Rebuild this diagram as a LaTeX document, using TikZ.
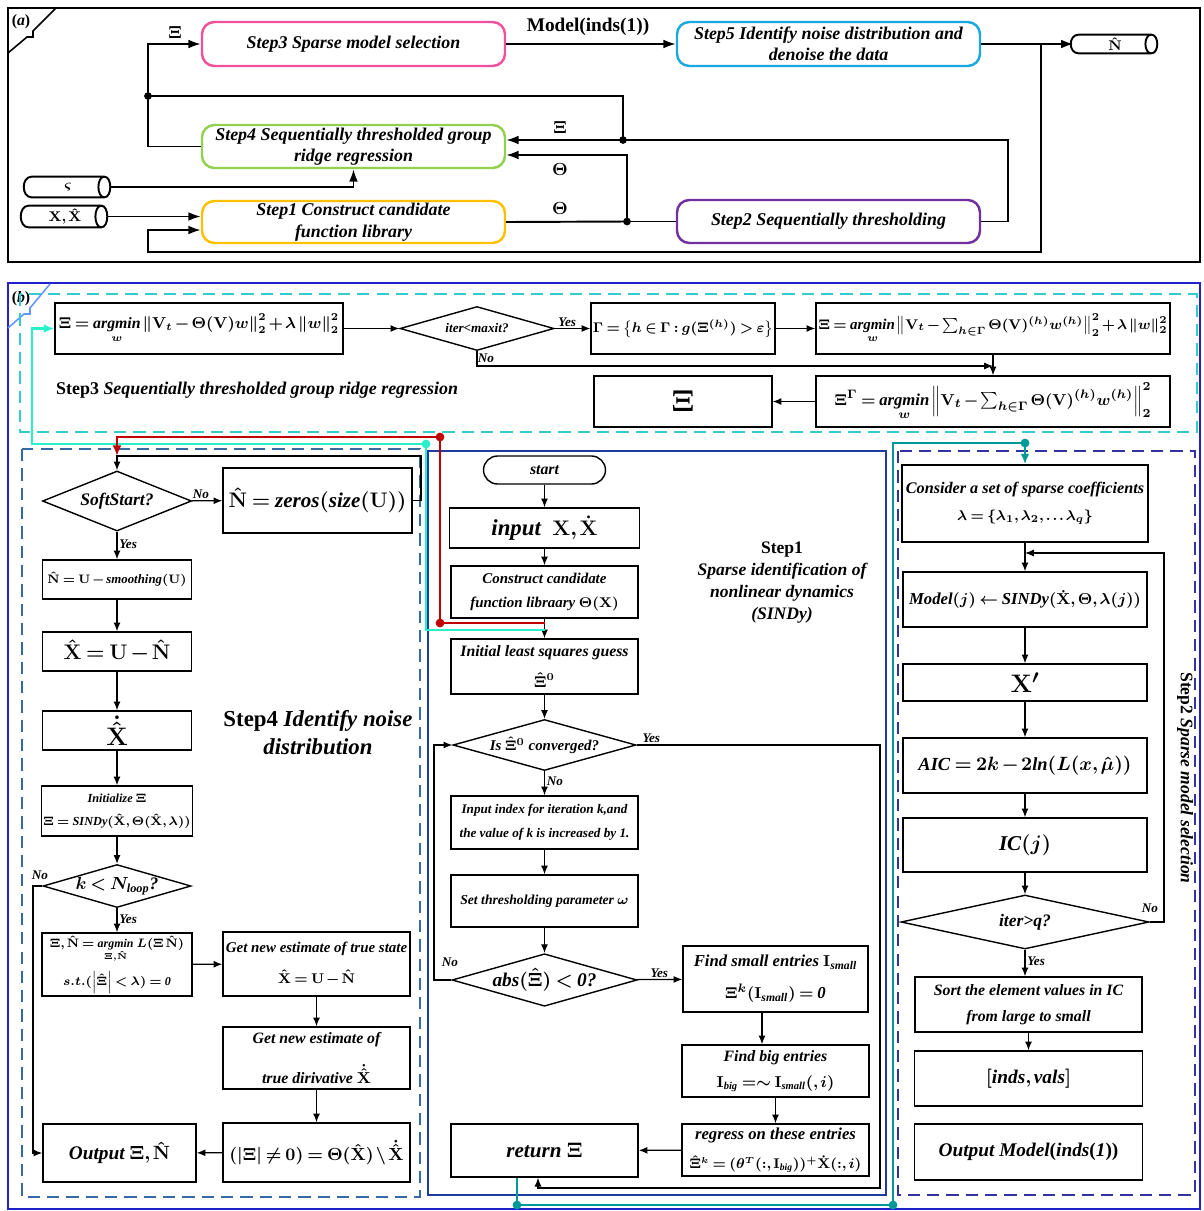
\documentclass[tikz,border=0pt]{standalone}
\usepackage{amsmath,amssymb}
\usepackage{fontspec}
\setmainfont{Liberation Serif}
\usepackage{tikz}
\usetikzlibrary{arrows.meta,shapes.geometric,positioning,calc}
\definecolor{sdpink}{RGB}{240,80,155}
\definecolor{sdblue}{RGB}{26,168,224}
\definecolor{sdgreen}{RGB}{146,208,80}
\definecolor{sdorange}{RGB}{255,192,0}
\definecolor{sdpurple}{RGB}{112,48,160}
\definecolor{sdframe}{RGB}{32,32,205}
\definecolor{sdtag}{RGB}{100,150,255}
\definecolor{sdcyan}{RGB}{51,204,204}
\definecolor{sdsteel}{RGB}{55,105,165}
\definecolor{sdnavy}{RGB}{30,60,160}
\definecolor{sdviolet}{RGB}{50,50,160}
\definecolor{sdred}{RGB}{192,0,0}
\definecolor{sdaqua}{RGB}{40,240,200}
\definecolor{sdteal}{RGB}{0,153,153}
\newcommand{\sdtight}{\thinmuskip=2mu\relax\medmuskip=2mu\relax\thickmuskip=3.5mu\relax}
\newcommand{\sdcylinder}[1]{%
  \draw[line width=1.1pt] (#1.north east) -- (#1.north west)
    .. controls +(-6pt,0) and +(-6pt,0) .. (#1.south west) -- (#1.south east)
    .. controls +(4.5pt,0) and +(4.5pt,0) .. (#1.north east)
    .. controls +(-4.5pt,0) and +(-4.5pt,0) .. (#1.south east);}
\tikzset{
  sdsize/.style 2 args={minimum width=#1*0.02cm,minimum height=#2*0.02cm},
  sdfont/.style={font=\bfseries\itshape\boldmath\fontsize{#1}{#1}\selectfont\sdtight},
  sdbox/.style={rectangle,draw=black,fill=white,line width=0.8pt,inner sep=1pt,align=center},
  sddec/.style={diamond,draw=black,fill=white,line width=0.8pt,inner sep=0pt,align=center},
  sdstep/.style={rectangle,rounded corners=7pt,draw=#1,fill=white,line width=1.4pt,inner sep=1pt,align=center,sdfont=10.2pt},
  sdcyl/.style={rectangle,inner sep=0pt,sdfont=8pt},
  sdedge/.style={-{Latex[length=5pt,width=4pt]},line width=0.7pt},
  sdmain/.style={-{Latex[length=7pt,width=5pt]},line width=1.1pt},
  sdwire/.style={line width=1.1pt},
  sdroute/.style={line width=1.6pt,draw=#1},
  sdlabel/.style={inner sep=1pt,sdfont=7.5pt},
  sddash/.style={line width=1.2pt,draw=#1,dash pattern=on 7pt off 4pt}
}
\begin{document}
\begin{tikzpicture}[x=0.02cm,y=-0.02cm]
  \useasboundingbox (0,0) rectangle (1204,1211);
  % (a) overview
  \draw[line width=1.2pt] (8,8) rectangle (1200,262);
  \draw[line width=0.9pt] (8,53) -- (27,37) -- (33,37) -- (33,31) -- (56,8);
  \node[sdfont=9pt] (taga) at (21,22) {\textup{(}a\textup{)}};
  \node[sdstep=sdpink,sdsize={303}{44}] (s3a) at (353.5,44) {Step3 Sparse model selection};
  \node[sdstep=sdblue,sdsize={303}{44}] (s5a) at (828.5,44) {Step5 Identify noise distribution and\\[2pt]denoise the data};
  \node[sdstep=sdgreen,sdsize={303}{43}] (s4a) at (353.5,146.5) {Step4 Sequentially thresholded group\\[2pt]ridge regression};
  \node[sdstep=sdorange,sdsize={303}{42}] (s1a) at (353.5,222) {Step1 Construct candidate\\[2pt]function library};
  \node[sdstep=sdpurple,sdsize={303}{43}] (s2a) at (828.5,221.5) {Step2 Sequentially thresholding};
  \node[sdcyl,sdsize={72}{18}] (cyn) at (1115,44) {$\hat{\mathbf{N}}$};
  \node[sdcyl,sdsize={72}{20}] (cys) at (68,187) {$\varsigma$};
  \node[sdcyl,sdsize={72}{21}] (cyx) at (65,216.5) {$\mathbf{X},\hat{\mathbf{X}}$};
  \sdcylinder{cyn}
  \sdcylinder{cys}
  \sdcylinder{cyx}
  \coordinate (ja) at (148,96);
  \coordinate (jb) at (623,140);
  \coordinate (jc) at (627,221.5);
  \coordinate (jd) at (1041,44);
  \coordinate (je) at (1008,140);
  \coordinate (jf) at (148,252);
  \draw[sdmain] (s4a.west) -| (ja) |- (s3a.west);
  \draw[sdwire] (ja) -| (jb);
  \draw[sdmain] (s2a.east) -| (je) -- (jb) -- (s4a.east |- jb);
  \draw[sdmain] (s1a.east) -- (jc) |- ([yshift=-0.17cm]s4a.east);
  \draw[sdwire] (jc) -- (s2a.west);
  \draw[sdmain] (s3a.east) -- (s5a.west);
  \node[sdfont=11pt] (mlab) at (588,27) {\textup{Model(inds(1))}};
  \draw[sdmain] (s5a.east) -- ([xshift=-3pt]cyn.west);
  \draw[sdmain] (jd) |- (jf) |- ([yshift=-0.16cm]s1a.west);
  \draw[sdmain] ([xshift=3pt]cyx.east) -- (s1a.west |- cyx.east);
  \draw[sdmain] ([xshift=3pt]cys.east) -| (s4a.south);
  \foreach \j in {ja,jb,jc} \fill (\j) circle[radius=2.2pt];
  \node[sdfont=10pt] at (175,32) {$\Xi$};
  \node[sdfont=10pt] at (560,127) {$\Xi$};
  \node[sdfont=10pt] at (560,169) {$\Theta$};
  \node[sdfont=10pt] at (560,208) {$\Theta$};
  % (b) frames
  \draw[line width=1.3pt,draw=sdframe] (8,283) rectangle (1200,1209);
  \draw[line width=0.9pt,draw=sdtag] (8,328) -- (24,314) -- (30,314) -- (30,308) -- (50,284);
  \node[sdfont=9pt] (tagb) at (21,299) {\textup{(}b\textup{)}};
  \draw[sddash=sdcyan] (20,294) rectangle (1197,432);
  \draw[sddash=sdsteel] (22,449) rectangle (420,1197);
  \draw[line width=1.3pt,draw=sdnavy] (428,451) rectangle (886,1195);
  \draw[sddash=sdviolet] (898,451) rectangle (1195,1195);
  % Step3 band
  \node[sdbox,sdsize={288}{51},sdfont=9pt] (b1) at (199,328.5) {$\Xi=\underset{w}{\mathit{argmin}}\left\|\mathbf{V}_t-\Theta(\mathbf{V})w\right\|_2^2+\lambda\left\|w\right\|_2^2$};
  \node[sddec,sdsize={154}{44},aspect=3.5,sdfont=7.5pt] (dmax) at (477,328.5) {iter<maxit?};
  \node[sdbox,sdsize={178}{51},sdfont=8pt] (b2) at (683,328.5) {$\Gamma=\left\{h\in\Gamma:g(\Xi^{(h)})>\varepsilon\right\}$};
  \node[sdbox,sdsize={354}{51},sdfont=8.5pt] (b3) at (993,328.5) {$\Xi=\underset{w}{\mathit{argmin}}\left\|\mathbf{V}_t-\sum_{h\in\Gamma}\Theta(\mathbf{V})^{(h)}w^{(h)}\right\|_2^2+\lambda\left\|w\right\|_2^2$};
  \node[sdbox,sdsize={354}{51},sdfont=9.5pt] (b4) at (993,401.5) {$\Xi^{\Gamma}=\underset{w}{\mathit{argmin}}\left\|\mathbf{V}_t-\sum_{h\in\Gamma}\Theta(\mathbf{V})^{(h)}w^{(h)}\right\|_2^2$};
  \node[sdbox,sdsize={178}{51},sdfont=17pt] (b5) at (683,401.5) {$\Xi$};
  \node[sdfont=10.2pt,anchor=west] (t3lab) at (50,390) {\textup{Step3} Sequentially thresholded group ridge regression};
  \coordinate (c10) at (993,366);
  \draw[sdedge] (b1) -- (dmax);
  \draw[sdedge] (dmax) -- node[sdlabel,above,pos=0.35] {Yes} (b2);
  \draw[sdedge] (b2) -- (b3);
  \draw[sdedge] (b3) -- (b4);
  \draw[sdedge] (dmax.south) |- (c10);
  \node[sdlabel] at (486,358) {No};
  \draw[sdedge] (b4) -- (b5);
  % Step4 column
  \node[sddec,sdsize={149}{60},aspect=2.5,sdfont=10pt] (dsoft) at (117,501) {SoftStart?};
  \node[sdbox,sdsize={189}{65},sdfont=12pt] (zeros) at (317.5,500.5) {$\hat{\mathbf{N}}=\mathit{zeros}(\mathit{size}(\mathbf{U}))$};
  \node[sdbox,sdsize={149}{39},sdfont=7.3pt] (smooth) at (117,579.5) {$\hat{\mathbf{N}}=\mathbf{U}-\mathit{smoothing}(\mathbf{U})$};
  \node[sdbox,sdsize={149}{39},sdfont=12pt] (xhat) at (117,651.5) {$\hat{\mathbf{X}}=\mathbf{U}-\hat{\mathbf{N}}$};
  \node[sdbox,sdsize={149}{39},sdfont=14pt] (xdh) at (117,730.5) {$\dot{\hat{\mathbf{X}}}$};
  \node[sdbox,sdsize={148}{50},sdfont=7pt] (init) at (117,811) {Initialize $\Xi$\\[6pt]$\Xi=\mathit{SINDy}(\hat{\mathbf{X}},\Theta(\hat{\mathbf{X}},\lambda))$};
  \node[sddec,sdsize={148}{43},aspect=3.4,sdfont=10pt] (dk) at (117,886) {$k<N_{\mathit{loop}}$?};
  \node[sdbox,sdsize={150}{63},sdfont=6.8pt] (amin) at (117,964.5) {$\Xi,\hat{\mathbf{N}}=\underset{\Xi,\hat{\mathbf{N}}}{\mathit{argmin}}\ L(\Xi\,\hat{\mathbf{N}})$\\[4pt]$s.t.(\left|\hat{\Xi}\right|<\lambda)=\mathit{0}$};
  \node[sdbox,sdsize={187}{64},sdfont=8.5pt] (gtrue) at (316.5,964) {Get new estimate of true state\\[7pt]$\hat{\mathbf{X}}=\mathbf{U}-\hat{\mathbf{N}}$};
  \node[sdbox,sdsize={187}{62},sdfont=9pt] (gder) at (316.5,1058) {Get new estimate of\\[9pt]true dirivative $\dot{\hat{\mathbf{X}}}$};
  \node[sdbox,sdsize={187}{59},sdfont=10pt] (theta) at (316.5,1152.5) {$(\left|\Xi\right|\neq\mathbf{0})=\Theta(\hat{\mathbf{X}})\setminus\dot{\hat{\mathbf{X}}}$};
  \node[sdbox,sdsize={153}{58},sdfont=11pt] (outp) at (119.5,1153) {Output $\Xi,\hat{\mathbf{N}}$};
  \node[sdfont=13pt,align=center] (t4lab) at (318,733) {\textup{Step4} Identify noise\\[3pt]distribution};
  \coordinate (c1) at (421,456);
  \coordinate (c4) at (33,886);
  \draw[sdedge] (zeros.east) -| (c1) -| (dsoft.north);
  \draw[sdedge] (dsoft) -- node[sdlabel,above,pos=0.3] {No} (zeros);
  \draw[sdedge] (dsoft) -- node[sdlabel,right,pos=0.45] {Yes} (smooth);
  \draw[sdedge] (smooth) -- (xhat);
  \draw[sdedge] (xhat) -- (xdh);
  \draw[sdedge] (xdh) -- (init);
  \draw[sdedge] (init) -- (dk);
  \draw[sdedge] (dk) -- node[sdlabel,right,pos=0.45] {Yes} (amin);
  \draw[sdedge] (dk.west) -- (c4) |- (outp.west);
  \node[sdlabel] at (40,875) {No};
  \draw[sdedge] (amin) -- (gtrue);
  \draw[sdedge] (gtrue) -- (gder);
  \draw[sdedge] (gder) -- (theta);
  \draw[sdedge] (theta) -- (outp);
  % Step1 column
  \node[sdbox,rounded corners=8pt,sdsize={122}{28},sdfont=9pt] (start) at (544.5,470) {start};
  \node[sdbox,sdsize={190}{40},sdfont=13pt] (inp) at (544.5,528) {input\ \ $\mathbf{X},\dot{\mathbf{X}}$};
  \node[sdbox,sdsize={187}{52},sdfont=8.5pt] (cons) at (544.5,592) {Construct candidate\\[5pt]function libraary $\Theta(\mathbf{X})$};
  \node[sdbox,sdsize={187}{55},sdfont=9pt] (ils) at (544.5,666.5) {Initial least squares guess\\[6pt]$\hat{\Xi}^{0}$};
  \node[sddec,sdsize={183}{51},aspect=3.6,sdfont=8.5pt] (dconv) at (544.5,745) {Is $\hat{\Xi}^{0}$ converged?};
  \node[sdbox,sdsize={187}{53},sdfont=7.5pt] (idx) at (544.5,822.5) {Input index for iteration k,and\\[6pt]the value of k is increased by 1.};
  \node[sdbox,sdsize={187}{52},sdfont=7.8pt] (thr) at (544.5,901) {Set thresholding parameter $\omega$};
  \node[sddec,sdsize={185}{52},aspect=3.5,sdfont=11pt] (dabs) at (544.5,980) {$\mathit{abs}(\hat{\Xi})<\mathit{0}$?};
  \node[sdbox,sdsize={185}{66},sdfont=9.5pt] (fsmall) at (775.5,979) {Find small entries $\mathbf{I}_{\mathit{small}}$\\[7pt]$\Xi^{k}(\mathbf{I}_{\mathit{small}})=\mathit{0}$};
  \node[sdbox,sdsize={187}{52},sdfont=9pt] (fbig) at (775.5,1071) {Find big entries\\[6pt]$\mathbf{I}_{\mathit{big}}=\sim\mathbf{I}_{\mathit{small}}(,i)$};
  \node[sdbox,sdsize={187}{52},sdfont=7.8pt] (regr) at (775.5,1150) {{\fontsize{9.5pt}{9.5pt}\selectfont regress on these entries}\\[6pt]$\hat{\Xi}^{k}=(\theta^{T}(:,\mathbf{I}_{\mathit{big}}))^{+}\dot{\mathbf{X}}(:,i)$};
  \node[sdbox,sdsize={187}{53},sdfont=12pt] (ret) at (544.5,1150.5) {return $\Xi$};
  \node[sdfont=10pt,align=center] (t1lab) at (782,583) {\textup{Step1}\\[2.5pt]Sparse identification of\\[2.5pt]nonlinear dynamics\\[2.5pt](SINDy)};
  \coordinate (c3) at (880,1188);
  \coordinate (c6) at (538,1188);
  \coordinate (c5) at (762,1030);
  \coordinate (c7) at (434,980);
  \draw[sdedge] (start) -- (inp);
  \draw[sdedge] (inp) -- (cons);
  \draw[sdedge] (cons) -- (ils);
  \draw[sdedge] (ils) -- (dconv);
  \draw[sdedge] (dconv) -- node[sdlabel,right,pos=0.4] {No} (idx);
  \draw[sdedge] (idx) -- (thr);
  \draw[sdedge] (thr) -- (dabs);
  \draw[sdedge] (dabs) -- node[sdlabel,above,pos=0.5] {Yes} (fsmall);
  \draw[sdedge] (fsmall.south -| c5) -- (fbig.north -| c5);
  \draw[sdedge] (fbig) -- (regr);
  \draw[sdedge] (regr) -- (ret);
  \draw[sdedge] (dconv.east) -| node[sdlabel,above,pos=0.03] {Yes} (c3) -- (c6) -- (ret.south -| c6);
  \draw[sdedge] (dabs.west) -- (c7) |- (dconv.west);
  \node[sdlabel] at (450,962) {No};
  % Step2 column
  \node[sdbox,sdsize={246}{77},sdfont=9.2pt] (cons2) at (1025,503.5) {Consider a set of sparse coefficients\\[6pt]{\fontsize{8pt}{8pt}\selectfont$\lambda=\left\{\lambda_1,\lambda_2,\ldots\lambda_q\right\}$}};
  \node[sdbox,sdsize={244}{55},sdfont=9.5pt] (model) at (1025,599.5) {$\mathit{Model}(j)\leftarrow\mathit{SINDy}(\dot{\mathbf{X}},\Theta,\lambda(j))$};
  \node[sdbox,sdsize={244}{37},sdfont=15pt] (xp) at (1025,682.5) {$\mathbf{X}'$};
  \node[sdbox,sdsize={244}{55},sdfont=10.5pt] (aic) at (1025,765.5) {$\mathit{AIC}=2k-2\mathit{ln}(L(x,\hat{\mu}))$};
  \node[sdbox,sdsize={244}{54},sdfont=12pt] (ic) at (1025,845) {$\mathit{IC}(j)$};
  \node[sddec,sdsize={248}{54},aspect=4.5,sdfont=10pt] (diter) at (1025,922) {iter>q?};
  \node[sdbox,sdsize={227}{55},sdfont=9pt] (sort) at (1028.5,1004.5) {Sort the element values in IC\\[6pt]from large to small};
  \node[sdbox,sdsize={228}{55},sdfont=11pt] (inds) at (1028.5,1078.5) {$[\mathit{inds},\mathit{vals}]$};
  \node[sdbox,sdsize={228}{56},sdfont=11pt] (outm) at (1028.5,1152) {Output\ Model\textup{(}inds\textup{(}1\textup{))}};
  \node[sdfont=10pt,rotate=-90] (t2lab) at (1185,778) {\textup{Step2} Sparse model selection};
  \coordinate (c8) at (1164,922);
  \coordinate (c9) at (1025,553);
  \draw[sdedge] (cons2) -- (model);
  \draw[sdedge] (model) -- (xp);
  \draw[sdedge] (xp) -- (aic);
  \draw[sdedge] (aic) -- (ic);
  \draw[sdedge] (ic) -- (diter);
  \draw[sdedge] (diter.south) -- node[sdlabel,right,pos=0.45] {Yes} (diter.south |- sort.north);
  \draw[sdedge] (sort) -- (inds);
  \draw[sdedge] (diter.east) -- (c8) |- (c9);
  \node[sdlabel] at (1150,908) {No};
  % coloured routes
  \coordinate (r1) at (544.5,623);
  \coordinate (r2) at (440,623);
  \coordinate (r3) at (440,437);
  \coordinate (g1) at (544.5,630);
  \coordinate (g2) at (426,630);
  \coordinate (g3) at (426,444);
  \coordinate (g4) at (32,444);
  \coordinate (tt1) at (517,1205);
  \coordinate (tt2) at (893,1205);
  \coordinate (tt3) at (1025,443);
  \draw[sdroute=sdaqua,-{Latex[length=6pt,width=5pt]}] (g1) -- (g2) -- (g3) -- (g4) |- (b1.west);
  \draw[sdroute=sdred,-{Latex[length=6pt,width=5pt]}] (r1) -- (r2) -- (r3) -| (dsoft.north |- c1);
  \draw[sdroute=sdteal] (ret.south -| tt1) -- (tt1) -- (tt2) |- (tt3);
  \draw[sdroute=sdteal,-{Latex[length=6pt,width=5pt]}] (tt3) -- (cons2);
  \fill[sdaqua] (g3) circle[radius=2.5pt];
  \fill[sdred] (r2) circle[radius=2.5pt] (r3) circle[radius=2.5pt];
  \fill[sdteal] (tt1) circle[radius=2.5pt] (tt2) circle[radius=2.5pt] (tt3) circle[radius=2.5pt];
\end{tikzpicture}
\end{document}
